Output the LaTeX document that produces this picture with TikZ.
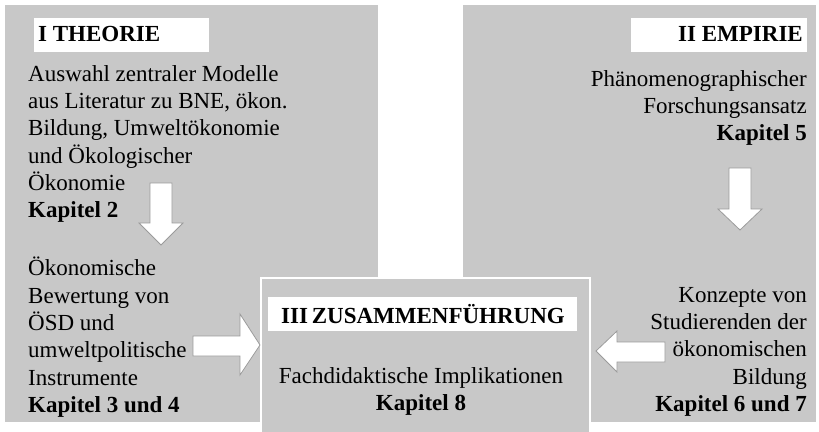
\documentclass[tikz,border=0pt]{standalone}
\usepackage{fontspec}
\setmainfont{Liberation Serif}
\definecolor{panelgray}{RGB}{200,200,200}
\definecolor{arrowedge}{RGB}{155,155,155}
\tikzset{
  panel/.style={fill=panelgray, draw=none},
  labelbox/.style={fill=white, draw=none},
  txt/.style={inner sep=0pt, font=\fontsize{23}{27.3}\selectfont, text=black},
  ttl/.style={inner sep=0pt, font=\fontsize{23}{27.3}\selectfont\bfseries, text=black},
  fatarrow/.style={fill=white, draw=arrowedge, line width=0.8pt, line join=miter},
}
\begin{document}
\begin{tikzpicture}[x=1pt,y=-1pt]
\useasboundingbox (0,0) rectangle (819,431);
% panels
\fill[panel] (5,5) rectangle (378,422);
\fill[panel] (463,5) rectangle (816,422);
\draw[panel, draw=white, line width=1.5pt] (261,278) rectangle (590,440);
% label boxes
\fill[labelbox] (34,18) rectangle (209,52);
\fill[labelbox] (631,18) rectangle (807,52);
\fill[labelbox] (268,297) rectangle (577,331);
% titles
\node[ttl, anchor=west] (t1) at (38,34) {I THEORIE};
\node[ttl, anchor=east] (t2) at (803,34) {II EMPIRIE};
\node[ttl, anchor=west] (t3) at (281,314) {III\,ZUSAMMENFÜHRUNG};
% texts
\node[txt, anchor=north west, align=left] (a) at (28,65) {Auswahl zentraler Modelle\\aus Literatur zu BNE, ökon.\\Bildung, Umweltökonomie\\und Ökologischer\\Ökonomie\\\textbf{Kapitel 2}};
\node[txt, anchor=north west, align=left] (b) at (28,257) {Ökonomische\\Bewertung von\\ÖSD und\\umweltpolitische\\Instrumente\\\textbf{Kapitel 3 und 4}};
\node[txt, anchor=north east, align=right] (c) at (807,70) {Phänomenographischer\\Forschungsansatz\\\textbf{Kapitel 5}};
\node[txt, anchor=north east, align=right] (d) at (807,287) {Konzepte von\\Studierenden der\\ökonomischen\\Bildung\\\textbf{Kapitel 6 und 7}};
\node[txt, anchor=north, align=center] (e) at (421,367) {Fachdidaktische Implikationen\\\textbf{Kapitel 8}};
% arrows
\draw[fatarrow] (150,183) -- (172,183) -- (172,223) -- (183,223) -- (161,245) -- (139,223) -- (150,223) -- cycle;
\draw[fatarrow] (729,168) -- (751,168) -- (751,209) -- (762,209) -- (740,230) -- (718,209) -- (729,209) -- cycle;
\draw[fatarrow] (193,336) -- (240,336) -- (240,314) -- (260,345) -- (240,375) -- (240,356) -- (193,356) -- cycle;
\draw[fatarrow] (665,342) -- (617,342) -- (617,331) -- (596,351) -- (617,372) -- (617,362) -- (665,362) -- cycle;
\end{tikzpicture}
\end{document}
